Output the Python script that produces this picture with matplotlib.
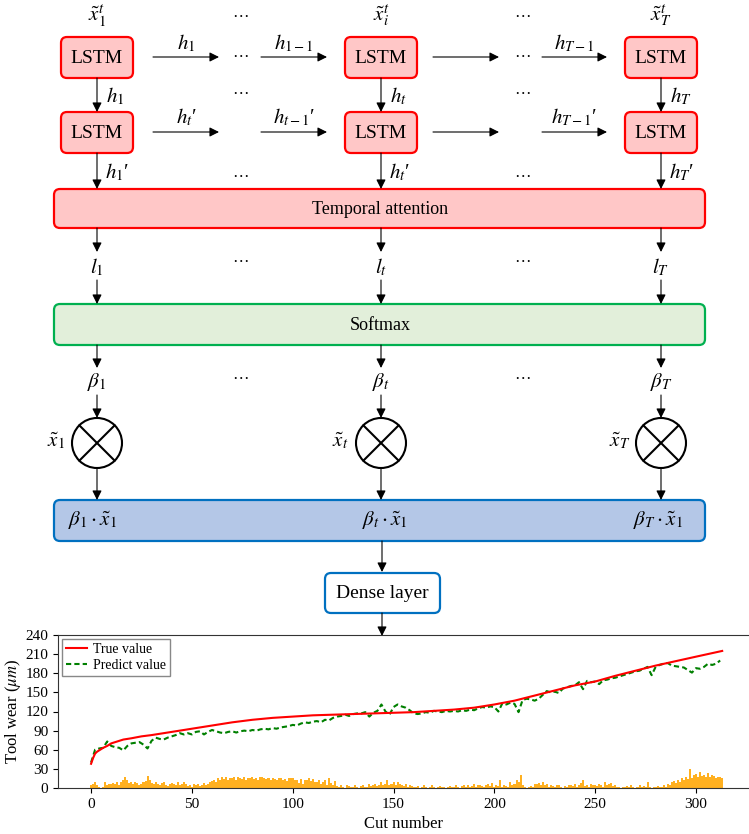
import numpy as np
import matplotlib
matplotlib.use("Agg")
import matplotlib.pyplot as plt
from matplotlib.patches import FancyBboxPatch, Circle

plt.rcParams['font.family'] = ['Liberation Serif', 'DejaVu Serif']
plt.rcParams['mathtext.fontset'] = 'stix'

# ---- chart data ----
true_x = [0, 1, 2, 3, 4, 5, 6, 8, 10, 13, 16, 20, 25, 30, 40, 50, 60, 70, 80, 90, 100,
          110, 120, 130, 140, 150, 160, 170, 180, 190, 200, 210, 220, 230, 240, 250,
          260, 270, 280, 290, 300, 313]
true_y = [38, 47, 54, 57, 59, 61, 63, 66, 70, 73, 76, 78, 81, 83, 88, 93, 98, 103, 107, 110, 112,
          114, 115, 116, 117, 118, 119, 121, 123, 126, 131, 137, 145, 153, 161, 167,
          176, 184, 192, 199, 206, 215]

# predicted value every 2 cuts (0, 2, ..., 312)
pred_y = [40, 60, 62, 63, 73, 66, 64, 63, 59, 66, 70, 71, 72, 68, 62, 74, 79, 77, 76, 79,
          81, 83, 86, 84, 86, 84, 88, 89, 84, 88, 91, 89, 87, 86, 88, 89, 87, 89, 90, 89,
          91, 90, 92, 93, 92, 94, 93, 95, 96, 97, 99, 98, 101, 103, 102, 104, 105, 103, 107, 106,
          110, 112, 113, 115, 113, 116, 117, 117, 119, 112, 118, 121, 131, 120, 115, 127, 131, 128, 126, 122,
          117, 116, 117, 119, 118, 121, 120, 119, 121, 120, 121, 120, 122, 121, 123, 122, 125, 127, 126, 128,
          127, 120, 133, 131, 134, 132, 119, 138, 140, 139, 137, 140, 146, 152, 150, 151, 149, 156, 158, 160,
          161, 166, 155, 168, 166, 167, 163, 169, 170, 172, 173, 175, 177, 179, 181, 183, 184, 187, 190, 177,
          190, 193, 195, 196, 192, 191, 190, 189, 185, 181, 188, 187, 190, 195, 193, 195, 200]

# absolute error bars, one per cut (0..313)
err = [4, 7, 9, 5, 2, 0, 1, 9, 5, 6, 7, 8, 6, 10, 5, 9, 13, 17, 12, 8,
       9, 6, 10, 8, 5, 7, 9, 11, 19, 12, 8, 6, 9, 7, 5, 8, 10, 4, 3, 6,
       8, 6, 5, 9, 4, 7, 10, 6, 3, 5, 2, 7, 4, 6, 3, 5, 8, 4, 7, 10,
       11, 13, 9, 15, 12, 17, 14, 18, 13, 16, 15, 17, 12, 18, 15, 14, 17, 13, 16, 15,
       17, 14, 16, 13, 18, 17, 15, 14, 16, 13, 15, 14, 12, 16, 15, 13, 14, 11, 15, 16,
       15, 12, 13, 8, 14, 6, 13, 12, 15, 11, 14, 9, 10, 13, 7, 9, 12, 5, 15, 8,
       4, 11, 3, 2, 5, 1, 0, 4, 3, 2, 1, 4, 2, 0, 3, 5, 1, 2, 6, 3,
       4, 7, 3, 5, 9, 4, 6, 12, 5, 7, 9, 4, 10, 6, 5, 3, 7, 2, 4, 3,
       2, 1, 3, 0, 2, 4, 1, 0, 2, 5, 1, 0, 2, 3, 1, 2, 0, 1, 3, 2,
       1, 4, 2, 0, 3, 5, 2, 4, 1, 3, 6, 2, 4, 5, 3, 2, 4, 6, 3, 8,
       2, 4, 3, 12, 1, 5, 3, 2, 9, 4, 6, 12, 9, 21, 4, 2, 0, 1, 3, 2,
       6, 7, 8, 5, 9, 4, 6, 2, 4, 3, 1, 5, 4, 2, 0, 3, 2, 4, 5, 3,
       7, 2, 4, 8, 12, 3, 5, 2, 7, 5, 4, 3, 7, 5, 2, 9, 4, 6, 8, 3,
       4, 2, 1, 0, 2, 1, 3, 2, 5, 1, 0, 2, 4, 1, 3, 2, 10, 1, 0, 2,
       1, 3, 2, 1, 4, 2, 7, 5, 9, 11, 8, 13, 10, 15, 12, 18, 14, 30, 16, 20,
       22, 17, 25, 19, 21, 18, 23, 17, 20, 19, 16, 18, 17, 15]

x_ticks = [0, 50, 100, 150, 200, 250, 300]
y_ticks = [0, 30, 60, 90, 120, 150, 180, 210, 240]

# ---- diagram texts ----
cols = [97, 381, 661]
top_labels = [r'$\tilde{x}_1^t$', r'$\tilde{x}_i^t$', r'$\tilde{x}_T^t$']
h_down1 = [r'$h_1$', r'$h_t$', r'$h_T$']
h_down2 = [r'$h_1$′', r'$h_t$′', r'$h_T$′']
l_labels = [r'$l_1$', r'$l_t$', r'$l_T$']
beta_labels = [r'$\beta_1$', r'$\beta_t$', r'$\beta_T$']
x_labels = [r'$\tilde{x}_1$', r'$\tilde{x}_t$', r'$\tilde{x}_T$']
x_label_pos = [56, 340, 620]
prod_labels = [r'$\beta_1\cdot\tilde{x}_1$', r'$\beta_t\cdot\tilde{x}_1$', r'$\beta_T\cdot\tilde{x}_1$']
row1_arrow_labels = [r'$h_1$', r'$h_{1-1}$', '', r'$h_{T-1}$']
row2_arrow_labels = [r'$h_t$′', r'$h_{t-1}$′', '', r'$h_{T-1}$′']
h_arrows = [(153, 219), (261, 327), (433, 499), (542, 607)]
dots_x = [240, 523]

fig = plt.figure(figsize=(7.49, 8.34), dpi=100)
ax = fig.add_axes([0, 0, 1, 1])
ax.set_xlim(0, 749)
ax.set_ylim(834, 0)
ax.axis('off')


def box(x0, y0, x1, y1, fc, ec):
    p = FancyBboxPatch((x0, y0), x1 - x0, y1 - y0,
                       boxstyle='round,pad=0,rounding_size=6',
                       fc=fc, ec=ec, lw=1.6)
    ax.add_patch(p)


def arrow(x0, y0, x1, y1):
    ax.annotate('', xy=(x1, y1), xytext=(x0, y0),
                arrowprops=dict(arrowstyle='-|>', color='black', lw=0.8,
                                mutation_scale=14, shrinkA=0, shrinkB=0))


pink, red = '#FFC7C7', '#FF0000'
mfs = 15

for i, c in enumerate(cols):
    ax.text(c, 16, top_labels[i], fontsize=mfs, ha='center', va='center')
    box(c - 36, 37, c + 36, 78, pink, red)
    box(c - 36, 112, c + 36, 153, pink, red)
    ax.text(c, 58, 'LSTM', fontsize=14, ha='center', va='center')
    ax.text(c, 133, 'LSTM', fontsize=14, ha='center', va='center')
    arrow(c, 78, c, 112)
    ax.text(c + 9, 96, h_down1[i], fontsize=mfs, ha='left', va='center')
    arrow(c, 153, c, 189)
    ax.text(c + 8, 172, h_down2[i], fontsize=mfs, ha='left', va='center')
    arrow(c, 228, c, 252)
    ax.text(c, 267, l_labels[i], fontsize=mfs, ha='center', va='center')
    arrow(c, 280, c, 304)
    arrow(c, 345, c, 368)
    ax.text(c, 382, beta_labels[i], fontsize=mfs, ha='center', va='center')
    arrow(c, 395, c, 418)
    ax.add_patch(Circle((c, 443), 25, fill=False, ec='black', lw=1.5))
    d = 25 / np.sqrt(2)
    ax.plot([c - d, c + d], [443 - d, 443 + d], color='black', lw=1.5)
    ax.plot([c - d, c + d], [443 + d, 443 - d], color='black', lw=1.5)
    ax.text(x_label_pos[i], 441, x_labels[i], fontsize=mfs, ha='center', va='center')
    arrow(c, 468, c, 500)

for (a0, a1), lab1, lab2 in zip(h_arrows, row1_arrow_labels, row2_arrow_labels):
    arrow(a0, 57, a1, 57)
    arrow(a0, 132, a1, 132)
    ax.text((a0 + a1) / 2, 43, lab1, fontsize=mfs, ha='center', va='center')
    ax.text((a0 + a1) / 2, 117, lab2, fontsize=mfs, ha='center', va='center')

for dx in dots_x:
    for dy in [13, 53, 90, 173, 258, 375]:
        ax.text(dx, dy, '…', fontsize=12, ha='center', va='center')

box(54, 189, 705, 228, pink, red)
ax.text(380, 209, 'Temporal attention', fontsize=13, ha='center', va='center')
box(54, 304, 705, 345, '#E2EFDA', '#00B050')
ax.text(380, 325, 'Softmax', fontsize=13, ha='center', va='center')
box(54, 500, 705, 541, '#B4C7E7', '#0070C0')
ax.text(68, 521, prod_labels[0], fontsize=mfs, ha='left', va='center')
ax.text(385, 521, prod_labels[1], fontsize=mfs, ha='center', va='center')
ax.text(658, 521, prod_labels[2], fontsize=mfs, ha='center', va='center')
arrow(382, 541, 382, 572)
box(325, 573, 440, 613, 'white', '#0070C0')
ax.text(382, 593, 'Dense layer', fontsize=14, ha='center', va='center')
arrow(382, 613, 382, 636)

# ---- chart ----
ax2 = fig.add_axes([58 / 749, (834 - 788) / 834, (749 - 58) / 749, 153 / 834])
ax2.bar(np.arange(len(err)), err, width=1.0, color='#FFB020', lw=0, zorder=1)
ax2.plot(true_x, true_y, color='red', lw=1.5, label='True value', zorder=3)
ax2.plot(np.arange(len(pred_y)) * 2, pred_y, color='green', lw=1.5, ls=(0, (2.5, 1.5)),
         label='Predict value', zorder=2)
ax2.set_xlim(-16.4, 326.3)
ax2.set_ylim(0, 240)
ax2.set_xticks(x_ticks)
ax2.set_yticks(y_ticks)
ax2.tick_params(labelsize=11)
ax2.spines['right'].set_visible(False)
for s in ['left', 'bottom', 'top']:
    ax2.spines[s].set_color('#333333')
ax2.set_xlabel('Cut number', fontsize=12, labelpad=4)
ax2.set_ylabel(r'Tool wear ($\mu m$)', fontsize=12, labelpad=2)
leg = ax2.legend(loc='upper left', fontsize=10, fancybox=False, framealpha=1,
                 edgecolor='#888888', borderaxespad=0.3, handlelength=1.5,
                 handletextpad=0.4, borderpad=0.3, labelspacing=0.2)

fig.savefig('out.png', dpi=100)
